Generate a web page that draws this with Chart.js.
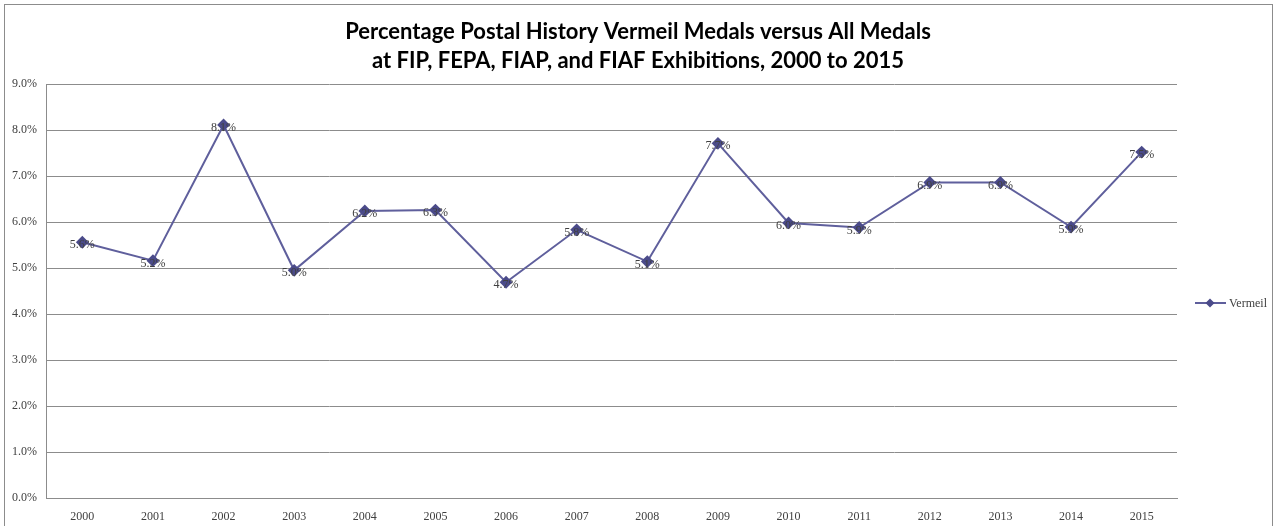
<!DOCTYPE html>
<html>
<head>
<meta charset="utf-8">
<script src="https://cdn.jsdelivr.net/npm/chart.js@4"></script>
<style>
  body { margin: 0; background: #fff; overflow: hidden; }
</style>
</head>
<body>
<canvas id="chart" width="1274" height="526"></canvas>
<script>
// Chart data
const years = ["2000", "2001", "2002", "2003", "2004", "2005", "2006", "2007",
  "2008", "2009", "2010", "2011", "2012", "2013", "2014", "2015"];
const vermeil = [5.56, 5.16, 8.11, 4.95, 6.24, 6.26, 4.69, 5.83,
  5.14, 7.71, 5.98, 5.88, 6.86, 6.86, 5.89, 7.52];
const seriesName = "Vermeil";
const yTicks = [0, 1, 2, 3, 4, 5, 6, 7, 8, 9];
const titleLines = [
  "Percentage Postal History Vermeil Medals versus All Medals",
  "at FIP, FEPA, FIAP, and FIAF Exhibitions, 2000 to 2015",
];

const lineColor = "#5f5f9c";
const markerColor = "#4b4b8a";

// white background, outer frame and the two-line title
const framePlugin = {
  id: "frame",
  beforeDraw(chart) {
    const ctx = chart.ctx;
    ctx.save();
    ctx.fillStyle = "#fff";
    ctx.fillRect(0, 0, chart.width, chart.height);
    ctx.strokeStyle = "#8c8c8c";
    ctx.lineWidth = 1;
    ctx.strokeRect(4.5, 4.5, 1268, 560);
    ctx.font = "bold 22px Lato";
    ctx.fillStyle = "#000";
    ctx.textAlign = "center";
    ctx.textBaseline = "alphabetic";
    ctx.fillText(titleLines[0], 638, 39);
    ctx.fillText(titleLines[1], 638, 68);
    ctx.restore();
  },
};

// value labels centred on each point
const labelPlugin = {
  id: "valueLabels",
  afterDatasetsDraw(chart) {
    const ctx = chart.ctx;
    const meta = chart.getDatasetMeta(0);
    ctx.save();
    ctx.font = "12px 'Liberation Serif'";
    ctx.fillStyle = "#404040";
    ctx.textAlign = "center";
    ctx.textBaseline = "middle";
    meta.data.forEach((pt, i) => {
      ctx.fillText(vermeil[i].toFixed(1) + "%", pt.x, pt.y + 3);
    });
    ctx.restore();
  },
};

// legend with line + diamond, like the original
const legendPlugin = {
  id: "sideLegend",
  afterDraw(chart) {
    const ctx = chart.ctx;
    const y = 303;
    ctx.save();
    ctx.strokeStyle = lineColor;
    ctx.lineWidth = 2;
    ctx.beginPath();
    ctx.moveTo(1195, y);
    ctx.lineTo(1226, y);
    ctx.stroke();
    ctx.fillStyle = markerColor;
    ctx.beginPath();
    ctx.moveTo(1210, y - 4.5);
    ctx.lineTo(1214.5, y);
    ctx.lineTo(1210, y + 4.5);
    ctx.lineTo(1205.5, y);
    ctx.closePath();
    ctx.fill();
    ctx.font = "12px 'Liberation Serif'";
    ctx.fillStyle = "#404040";
    ctx.textBaseline = "middle";
    ctx.fillText(seriesName, 1229, y + 1);
    ctx.restore();
  },
};

const ctx = document.getElementById("chart").getContext("2d");
new Chart(ctx, {
  type: "line",
  data: {
    labels: years,
    datasets: [
      {
        label: seriesName,
        data: vermeil,
        borderColor: lineColor,
        borderWidth: 2,
        backgroundColor: markerColor,
        pointStyle: "rectRot",
        pointRadius: 5,
        pointBackgroundColor: markerColor,
        pointBorderColor: markerColor,
        tension: 0,
        fill: false,
      },
    ],
  },
  options: {
    responsive: false,
    animation: false,
    layout: { padding: { left: 2, right: 97, top: 84, bottom: 0 } },
    plugins: {
      legend: { display: false },
      tooltip: { enabled: false },
      title: { display: false },
    },
    scales: {
      x: {
        offset: true,
        grid: { display: false, drawTicks: false },
        border: { display: true, color: "#8c8c8c" },
        afterFit(axis) {
          axis.height = 28;
        },
        ticks: {
          color: "#404040",
          font: { family: "Liberation Serif", size: 12 },
          padding: 12,
          maxRotation: 0,
          autoSkip: false,
        },
      },
      y: {
        min: 0,
        max: 9,
        afterBuildTicks(axis) {
          axis.ticks = yTicks.map((v) => ({ value: v }));
        },
        grid: { color: "#8c8c8c", drawTicks: false },
        border: { display: true, color: "#8c8c8c" },
        ticks: {
          color: "#404040",
          font: { family: "Liberation Serif", size: 12 },
          padding: 10,
          callback: (v) => v.toFixed(1) + "%",
        },
      },
    },
  },
  plugins: [framePlugin, labelPlugin, legendPlugin],
});
</script>
</body>
</html>
